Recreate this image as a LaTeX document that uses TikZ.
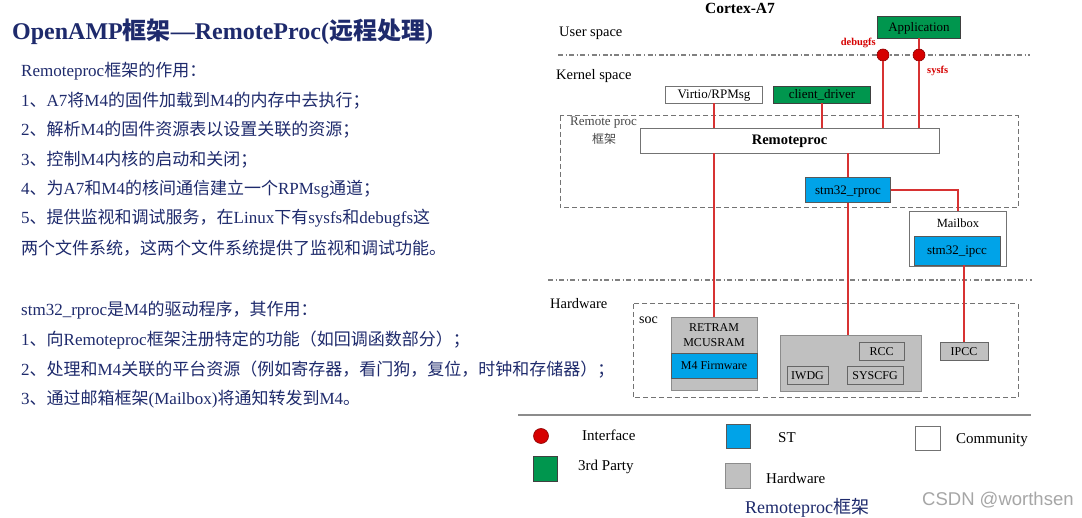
\documentclass[tikz,border=0pt]{standalone}
\usepackage{fontspec}
\setmainfont{Liberation Serif}
\newfontfamily\cjkfont{Noto Sans CJK SC}
\newfontfamily\wmfont{Liberation Sans}
% automatic switching to the CJK font
\XeTeXinterchartokenstate=1
\newXeTeXintercharclass\mycjkclass
\newcount\mycnt
\mycnt="4E00
\loop
  \XeTeXcharclass\mycnt=\mycjkclass
  \advance\mycnt by 1
\ifnum\mycnt<"A000 \repeat
\mycnt="3000
\loop
  \XeTeXcharclass\mycnt=\mycjkclass
  \advance\mycnt by 1
\ifnum\mycnt<"3040 \repeat
\mycnt="FF00
\loop
  \XeTeXcharclass\mycnt=\mycjkclass
  \advance\mycnt by 1
\ifnum\mycnt<"FFF0 \repeat
\XeTeXinterchartoks 0 \mycjkclass = {\cjkfont}
\XeTeXinterchartoks 4095 \mycjkclass = {\cjkfont}
\XeTeXinterchartoks \mycjkclass 0 = {\rmfamily}
\newcommand\fsz[1]{\fontsize{#1}{#1}\selectfont}
\definecolor{txtblue}{RGB}{30,42,108}
\definecolor{grn}{RGB}{0,150,78}
\definecolor{stblue}{RGB}{0,163,232}
\definecolor{hwgray}{RGB}{192,192,192}
\definecolor{ifred}{RGB}{214,0,0}
\definecolor{linered}{RGB}{215,50,50}
\definecolor{framegray}{RGB}{115,115,115}
\definecolor{lblgray}{RGB}{70,70,70}
\tikzset{
  lbl/.style={inner sep=0pt, font=\fsz{14.5}},
  body/.style={anchor=west, inner sep=0pt, text=txtblue, font=\fsz{17}},
  box/.style={draw=framegray, line width=0.8pt, inner sep=0pt, font=\fsz{13},
    text height=11pt, text depth=2pt},
  wbox/.style={box, fill=white},
  gbox/.style={box, fill=grn, draw=black!75},
  bbox/.style={box, fill=stblue, draw=black!65},
  hbox/.style={box, fill=hwgray, draw=black!45, font=\fsz{12}},
  hboxin/.style={box, fill=hwgray, draw=black!60, font=\fsz{12}},
  conn/.style={draw=linered, line width=1.2pt},
  iface/.style={circle, fill=ifred, draw=ifred!65!black, line width=0.6pt, inner sep=0pt, minimum size=12pt},
  dashdotline/.style={draw=black!50, line width=1.3pt, dash pattern=on 5pt off 2.5pt on 1.2pt off 2.5pt},
  frame/.style={draw=framegray, line width=1pt, dash pattern=on 5pt off 3pt},
}
\begin{document}
\begin{tikzpicture}[x=1pt,y=-1pt]
\useasboundingbox (0,0) rectangle (1082,518);
\fill[white] (0,0) rectangle (1082,518);

% ---------- left text ----------
\node[anchor=west, inner sep=0pt, text=txtblue, font=\bfseries\fsz{24}] (title) at (12,32) {OpenAMP框架—RemoteProc(远程处理)};
\node[body] (t0) at (21,71) {Remoteproc框架的作用：};
\node[body] (t1) at (21,100.5) {1、A7将M4的固件加载到M4的内存中去执行；};
\node[body] (t2) at (21,130) {2、解析M4的固件资源表以设置关联的资源；};
\node[body] (t3) at (21,159.5) {3、控制M4内核的启动和关闭；};
\node[body] (t4) at (21,189) {4、为A7和M4的核间通信建立一个RPMsg通道；};
\node[body] (t5) at (21,218.5) {5、提供监视和调试服务，在Linux下有sysfs和debugfs这};
\node[body] (t6) at (21,248) {两个文件系统，这两个文件系统提供了监视和调试功能。};
\node[body] (s0) at (21,310) {stm32\_rproc是M4的驱动程序，其作用：};
\node[body] (s1) at (21,340) {1、向Remoteproc框架注册特定的功能（如回调函数部分）；};
\node[body] (s2) at (21,370) {2、处理和M4关联的平台资源（例如寄存器，看门狗，复位，时钟和存储器）；};
\node[body] (s3) at (21,399.5) {3、通过邮箱框架(Mailbox)将通知转发到M4。};

% ---------- diagram: Cortex-A7 ----------
\node[lbl, font=\bfseries\fsz{15.5}] (cortex) at (740,8) {Cortex-A7};
\node[lbl, anchor=west] (user) at (559,33) {User space};
\node[lbl, anchor=west] (kernel) at (556,76) {Kernel space};
\draw[dashdotline] (558,55) -- (1030,55);

\node[gbox, minimum width=83pt, minimum height=22pt] (app) at (919,27) {Application};
\node[wbox, minimum width=97pt, minimum height=17pt] (virtio) at (714,94.5) {Virtio/RPMsg};
\node[gbox, minimum width=97pt, minimum height=17pt] (client) at (822,94.5) {client\_driver};

\draw[frame] (560,116) rectangle (1018,208);
\node[lbl, anchor=west, text=lblgray, font=\fsz{13}] (rplabel) at (570,123) {Remote proc};
\node[lbl, text=lblgray, font=\fsz{12}] (rplabelb) at (604,139) {框架};

\node[wbox, minimum width=299pt, minimum height=25pt, font=\bfseries\fsz{14.5}] (rp) at (789.5,140.5) {Remoteproc};
\node[bbox, minimum width=85pt, minimum height=25pt] (rproc) at (848,190) {stm32\_rproc};
\node[wbox, minimum width=97pt, minimum height=55pt] (mbox) at (958,238.5) {};
\node[lbl, font=\fsz{12.5}] (mboxlabel) at (958,223) {Mailbox};
\node[bbox, minimum width=86pt, minimum height=29pt] (ipccdrv) at (957,250.5) {stm32\_ipcc};

\node[iface] (dbg) at (883,55) {};
\node[iface] (sys) at (919,55) {};
\node[lbl, anchor=east, text=ifred, font=\bfseries\fsz{10.5}] (dbgl) at (876,43) {debugfs};
\node[lbl, anchor=west, text=ifred, font=\bfseries\fsz{10.5}] (sysl) at (927,71) {sysfs};

% ---------- hardware ----------
\draw[dashdotline] (548,280) -- (1032,280);
\node[lbl, anchor=west] (hw) at (550,304) {Hardware};
\draw[frame] (633,304) rectangle (1018,398);
\node[lbl, anchor=west, font=\fsz{14}] (soc) at (639,320) {soc};

\node[hbox, minimum width=86pt, minimum height=73pt] (retram) at (714,353.5) {};
\node[bbox, minimum width=86pt, minimum height=25pt, font=\fsz{12}] (m4fw) at (714,365.5) {M4 Firmware};
\node[lbl, font=\fsz{12}] (retramt) at (714,328) {RETRAM};
\node[lbl, font=\fsz{12}] (mcusramt) at (714,343) {MCUSRAM};

\node[hbox, minimum width=141pt, minimum height=56pt] (grp) at (850.5,363) {};
\node[hboxin, minimum width=45pt, minimum height=18pt] (rcc) at (881.5,351) {RCC};
\node[hboxin, minimum width=41pt, minimum height=18pt] (iwdg) at (807.5,375) {IWDG};
\node[hboxin, minimum width=56pt, minimum height=18pt] (syscfg) at (875,375) {SYSCFG};
\node[hboxin, minimum width=48pt, minimum height=18pt] (ipcc) at (964,351) {IPCC};

% ---------- connectors ----------
\draw[conn] (virtio.south) -- (virtio.south |- rp.north);
\draw[conn] (client.south) -- (client.south |- rp.north);
\draw[conn] (dbg.south) -- (dbg.south |- rp.north);
\draw[conn] (app.south) -- (sys.north);
\draw[conn] (sys.south) -- (sys.south |- rp.north);
\draw[conn] (retram.north |- rp.south) -- (retram.north);
\draw[conn] (rproc.north |- rp.south) -- (rproc.north);
\draw[conn] (rproc.south) -- (rproc.south |- grp.north);
\draw[conn] (rproc.east) -| (mbox.north);
\draw[conn] (ipcc.north |- ipccdrv.south) -- (ipcc.north);

% ---------- legend ----------
\draw[draw=black!45, line width=1.5pt] (518,415) -- (1031,415);
\node[iface, minimum size=15pt] (lgif) at (541,436) {};
\node[lbl, anchor=west, font=\fsz{15}] (lgift) at (582,435) {Interface};
\node[gbox, minimum width=24pt, minimum height=25pt] (lggr) at (545,468.5) {};
\node[lbl, anchor=west, font=\fsz{15}] (lggrt) at (578,467) {3rd Party};
\node[bbox, minimum width=24pt, minimum height=24pt] (lgst) at (738,436) {};
\node[lbl, anchor=west, font=\fsz{15}] (lgstt) at (778,438) {ST};
\node[hbox, minimum width=25pt, minimum height=25pt] (lghw) at (737.5,475.5) {};
\node[lbl, anchor=west, font=\fsz{15}] (lghwt) at (766,478) {Hardware};
\node[wbox, minimum width=25pt, minimum height=24pt] (lgcm) at (927.5,438) {};
\node[lbl, anchor=west, font=\fsz{15}] (lgcmt) at (956,440) {Community};
\node[lbl, anchor=west, text=txtblue, font=\fsz{18}] (caption) at (745,508) {Remoteproc框架};
\node[lbl, anchor=west, text=black!35, font=\wmfont\fsz{18.5}] (wm) at (922,500) {CSDN @worthsen};
\end{tikzpicture}
\end{document}
